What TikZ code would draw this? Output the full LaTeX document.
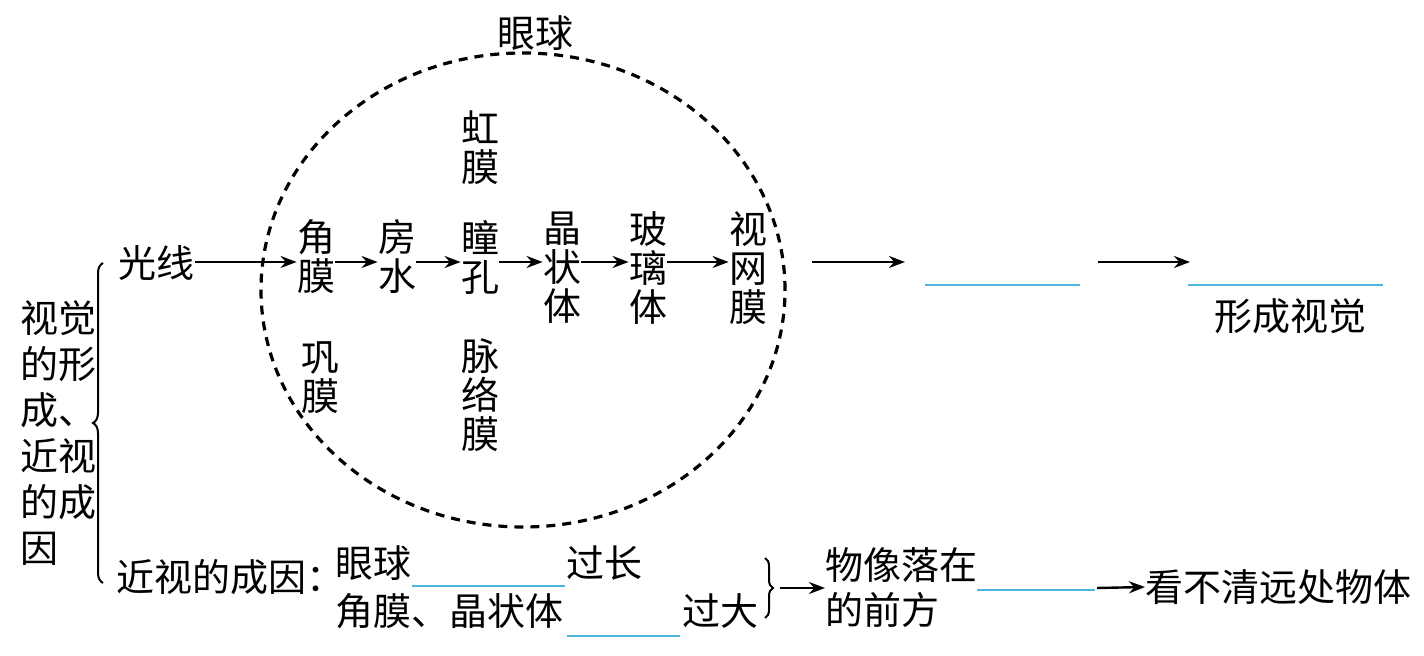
\documentclass[tikz,border=0pt]{standalone}
\usepackage{fontspec}
\setmainfont{Noto Sans CJK SC}
\usetikzlibrary{arrows.meta,shapes.geometric,decorations.pathreplacing}
\definecolor{blankblue}{RGB}{80,180,225}
\begin{document}
\begin{tikzpicture}[x=0.5pt,y=-0.5pt,
  txt/.style={inner sep=0pt,font=\fontsize{19}{19.5}\selectfont,align=center},
  lefttxt/.style={inner sep=0pt,font=\fontsize{19}{23}\selectfont,align=left},
  arr/.style={-{Stealth[length=8pt,width=6pt]},line width=1.2pt},
  blank/.style={blankblue,line width=1pt},
  bracestyle/.style={decorate,decoration={brace,amplitude=5pt},line width=1pt}]
\useasboundingbox (0,0) rectangle (1424,656);
% eyeball
\node[draw,ellipse,dash pattern=on 4.5pt off 3.5pt,line width=1.6pt,minimum width=262pt,minimum height=237pt,inner sep=0pt] (eye) at (523,290) {};
\node[txt] (title) at (535,33) {眼球};
\node[txt] (hm) at (480,148) {虹\\膜};
\node[txt] (jm) at (316,257) {角\\膜};
\node[txt] (fs) at (397,257) {房\\水};
\node[txt] (tk) at (480,257) {瞳\\孔};
\node[txt] (jzt) at (562,268) {晶\\状\\体};
\node[txt] (blt) at (648,268) {玻\\璃\\体};
\node[txt] (swm) at (748,268) {视\\网\\膜};
\node[txt] (gm) at (320,378) {巩\\膜};
\node[txt] (mlm) at (480,395) {脉\\络\\膜};
% left
\node[lefttxt,anchor=north west] (lt) at (20,300) {视觉\\的形\\成、\\近视\\的成\\因};
\coordinate (lbb) at (103,583);
\coordinate (lbt) at (103,263);
\draw[bracestyle] (lbb) -- (lbt);
\node[txt,anchor=west] (gx) at (118,263) {光线};
\coordinate (row) at (0,262);
\draw[arr] (gx.east |- row) -- (jm.west |- row);
\draw[arr] (jm.east |- row) -- (fs.west |- row);
\draw[arr] (fs.east |- row) -- (tk.west |- row);
\draw[arr] (tk.east |- row) -- (jzt.west |- row);
\draw[arr] (jzt.east |- row) -- (blt.west |- row);
\draw[arr] (blt.east |- row) -- (swm.west |- row);
% right of eye
\coordinate (a1) at (812,262);
\coordinate (a2) at (905,262);
\draw[arr] (a1) -- (a2);
\coordinate (b1s) at (925,285);
\coordinate (b1e) at (1080,285);
\draw[blank] (b1s) -- (b1e);
\coordinate (a3) at (1098,262);
\coordinate (a4) at (1190,262);
\draw[arr] (a3) -- (a4);
\coordinate (b2s) at (1188,285);
\coordinate (b2e) at (1383,285);
\draw[blank] (b2s) -- (b2e);
\node[txt] (xcsj) at (1290,316) {形成视觉};
% bottom
\node[txt,anchor=west] (jscy) at (116,577) {近视的成因：};
\node[txt,anchor=west] (yq) at (335,563) {眼球};
\coordinate (b3s) at (412,586);
\coordinate (b3e) at (565,586);
\draw[blank] (b3s) -- (b3e);
\node[txt,anchor=west] (gc) at (566,563) {过长};
\node[txt,anchor=west] (jmj) at (335,611) {角膜、晶状体};
\coordinate (b4s) at (567,636);
\coordinate (b4e) at (680,636);
\draw[blank] (b4s) -- (b4e);
\node[txt,anchor=west] (gd) at (682,611) {过大};
\coordinate (rbt) at (765,558);
\coordinate (rbb) at (765,618);
\draw[bracestyle,decoration={amplitude=4pt}] (rbt) -- (rbb);
\coordinate (rtip) at (780,588);
\node[lefttxt,anchor=west,font=\fontsize{19}{22.5}\selectfont] (wx) at (825,588) {物像落在\\的前方};
\draw[arr] (rtip) -- (wx.west);
\coordinate (b5s) at (977,590);
\coordinate (b5e) at (1095,590);
\draw[blank] (b5s) -- (b5e);
\node[txt,anchor=west] (kbq) at (1145,587) {看不清远处物体};
\coordinate (a5) at (1097,588);
\draw[arr] (a5) -- (kbq.west);
\end{tikzpicture}
\end{document}
